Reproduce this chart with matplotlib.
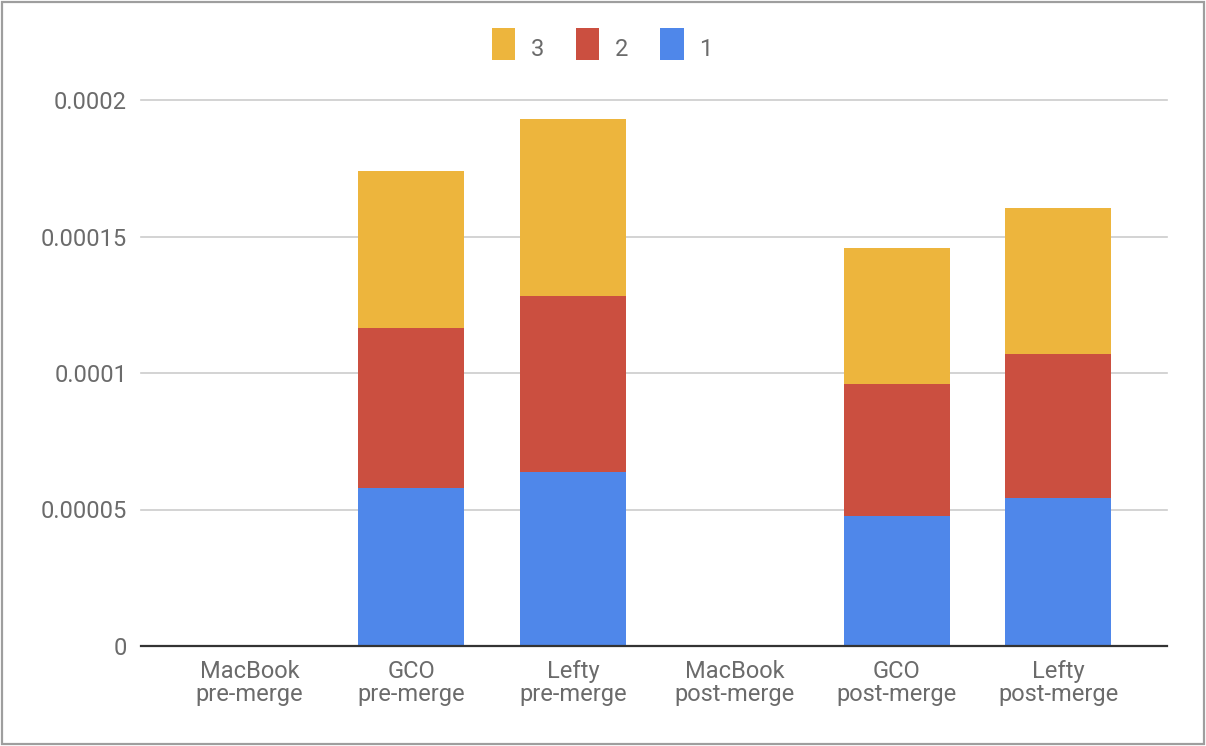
import matplotlib.pyplot as plt
import numpy as np
from matplotlib.patches import Rectangle

plt.rcParams['font.family'] = ['Roboto', 'DejaVu Sans']

# categories and stacked series (MacBook rows have no data)
categories = ['MacBook\npre-merge', 'GCO\npre-merge', 'Lefty\npre-merge',
              'MacBook\npost-merge', 'GCO\npost-merge', 'Lefty\npost-merge']
s1 = [0.0, 0.0000579, 0.0000637, 0.0, 0.0000476, 0.0000542]
s2 = [0.0, 0.0000586, 0.0000645, 0.0, 0.0000484, 0.0000528]
s3 = [0.0, 0.0000575, 0.0000648, 0.0, 0.0000498, 0.0000535]
yticks = [0, 0.00005, 0.0001, 0.00015, 0.0002]
ytick_labels = ['0', '0.00005', '0.0001', '0.00015', '0.0002']

c1 = '#4f87ea'
c2 = '#cb4f40'
c3 = '#edb53d'

W, H = 1206, 746
fig = plt.figure(figsize=(W / 100, H / 100), dpi=100)
ax = fig.add_axes([141 / W, 100 / H, (1167 - 141) / W, 546 / H])

x = np.arange(len(categories))
s1 = np.array(s1)
s2 = np.array(s2)
s3 = np.array(s3)
width = 0.655
p1 = ax.bar(x, s1, width, color=c1, zorder=3)
p2 = ax.bar(x, s2, width, bottom=s1, color=c2, zorder=3)
p3 = ax.bar(x, s3, width, bottom=s1 + s2, color=c3, zorder=3)

ax.set_xlim(-0.672, 5.672)
ax.set_ylim(0, 0.0002)
ax.set_yticks(yticks)
ax.set_yticklabels(ytick_labels)
ax.set_xticks(x)
ax.set_xticklabels(categories, linespacing=1.0)

for s in ax.spines.values():
    s.set_visible(False)
ax.axhline(0, color='#333333', lw=1.6, zorder=4, clip_on=False)
ax.yaxis.grid(True, color='#cccccc', lw=1.2, zorder=0)
ax.set_axisbelow(True)
ax.tick_params(axis='both', length=0, labelsize=17, colors='#6b6b6b')
ax.tick_params(axis='y', pad=10)
ax.tick_params(axis='x', pad=10)
for gl in ax.get_ygridlines():
    gl.set_clip_on(False)

leg = fig.legend((p3[0], p2[0], p1[0]), ('3', '2', '1'), loc='center',
                 bbox_to_anchor=(602 / W, 1 - 49 / H), ncol=3, frameon=False,
                 fontsize=17, labelcolor='#6b6b6b', handlelength=1.0, handleheight=1.0,
                 handletextpad=0.65, columnspacing=1.35)
for h in leg.legend_handles:
    h.set_height(23)
    h.set_y(-3)

fig.patches.append(Rectangle((2 / W, 2 / H), (W - 4) / W, (H - 4) / H,
                             transform=fig.transFigure, fill=False,
                             edgecolor='#9e9e9e', lw=1.6))

fig.savefig('out.png', dpi=100)
